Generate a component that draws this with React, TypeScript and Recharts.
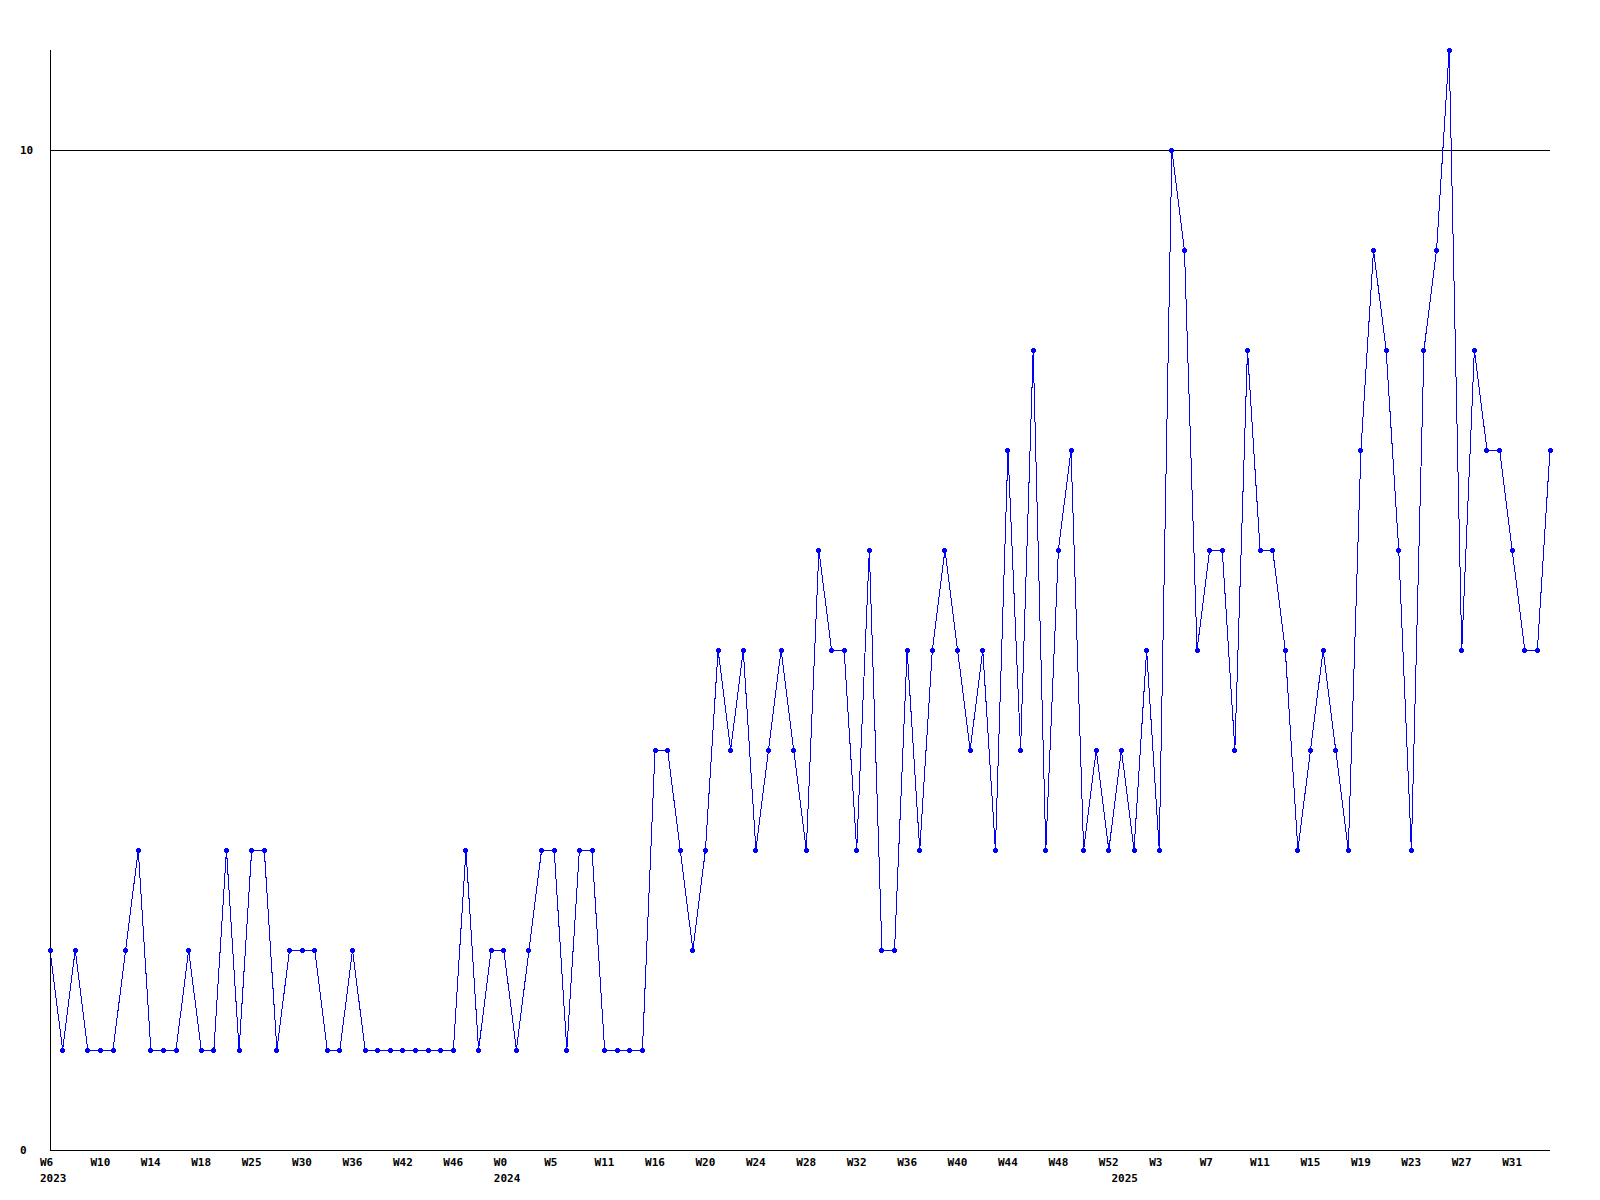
import React from "react";
import { LineChart, Line, XAxis, YAxis, ReferenceLine } from "recharts";

// Weekly values (120 weeks, 2023-W6 .. 2025-W34)
const values: number[] = [
  2, 1, 2, 1, 1, 1, 2, 3, 1, 1, 1, 2, 1, 1, 3, 1, 3, 3, 1, 2,
  2, 2, 1, 1, 2, 1, 1, 1, 1, 1, 1, 1, 1, 3, 1, 2, 2, 1, 2, 3,
  3, 1, 3, 3, 1, 1, 1, 1, 4, 4, 3, 2, 3, 5, 4, 5, 3, 4, 5, 4,
  3, 6, 5, 5, 3, 6, 2, 2, 5, 3, 5, 6, 5, 4, 5, 3, 7, 4, 8, 3,
  6, 7, 3, 4, 3, 4, 3, 5, 3, 10, 9, 5, 6, 6, 4, 8, 6, 6, 5, 3,
  4, 5, 4, 3, 7, 9, 8, 6, 3, 8, 9, 11, 5, 8, 7, 7, 6, 5, 5, 7,
];

// Week tick labels, one for every 4th week
const weekLabels: string[] = [
  "W6", "W10", "W14", "W18", "W25", "W30", "W36", "W42", "W46", "W0",
  "W5", "W11", "W16", "W20", "W24", "W28", "W32", "W36", "W40", "W44",
  "W48", "W52", "W3", "W7", "W11", "W15", "W19", "W23", "W27", "W31",
];
const weekStep = 4;

// Year labels and the week index where each year starts
const yearNames: string[] = ["2023", "2024", "2025"];
const yearStarts: number[] = [0, 36, 85];

const yTicks: number[] = [0, 10];
const yMax = 11;

const data = values.map((v, i) => ({ i, v }));
const xTicks = Array.from(
  new Set([...weekLabels.map((_, k) => k * weekStep), ...yearStarts])
).sort((a, b) => a - b);

const FONT = "'DejaVu Sans Mono', 'Liberation Mono', monospace";

const XTick = (props: any) => {
  const { x, y, payload } = props;
  const i = payload.value as number;
  const wk = i % weekStep === 0 ? weekLabels[i / weekStep] : null;
  const yi = yearStarts.indexOf(i);
  return (
    <g>
      {wk ? (
        <text x={x - 10} y={y + 16} fontSize={11} fontWeight="bold" fontFamily={FONT} fill="#000" textAnchor="start">
          {wk}
        </text>
      ) : null}
      {yi >= 0 ? (
        <text x={x - 10} y={y + 32} fontSize={11} fontWeight="bold" fontFamily={FONT} fill="#000" textAnchor="start">
          {yearNames[yi]}
        </text>
      ) : null}
    </g>
  );
};

const YTick = (props: any) => {
  const { x, y, payload } = props;
  return (
    <text x={x - 30} y={y + 4} fontSize={11} fontWeight="bold" fontFamily={FONT} fill="#000" textAnchor="start">
      {payload.value}
    </text>
  );
};

const Dot = (props: any) => {
  const { cx, cy, index } = props;
  if (cx == null || cy == null) return <g key={`d${index}`} />;
  return (
    <g key={`d${index}`}>
      <rect x={cx - 2.5} y={cy - 1.5} width={5} height={3} fill="#0000ff" />
      <rect x={cx - 1.5} y={cy - 2.5} width={3} height={5} fill="#0000ff" />
    </g>
  );
};

export default function App() {
  return (
    <div style={{ position: "absolute", left: 0, top: 0, width: 1600, height: 1200, background: "#fff" }}>
      <style>{`.recharts-wrapper svg line, .recharts-wrapper svg path, .recharts-wrapper svg rect { shape-rendering: crispEdges; }`}</style>
      <LineChart
        width={1600}
        height={1200}
        data={data}
        margin={{ top: 50, right: 50, bottom: 0, left: 0 }}
      >
        <XAxis
          dataKey="i"
          type="number"
          domain={[0, values.length - 1]}
          ticks={xTicks}
          interval={0}
          tick={<XTick />}
          tickLine={false}
          tickSize={0}
          tickMargin={0}
          height={50}
          axisLine={{ stroke: "#000", strokeWidth: 1 }}
        />
        <YAxis
          type="number"
          domain={[0, yMax]}
          ticks={yTicks}
          interval={0}
          tick={<YTick />}
          tickLine={false}
          tickSize={0}
          tickMargin={0}
          width={50}
          axisLine={{ stroke: "#000", strokeWidth: 1 }}
        />
        <ReferenceLine y={10} stroke="#000" strokeWidth={1} ifOverflow="visible" />
        <Line
          type="linear"
          dataKey="v"
          stroke="#0000ff"
          strokeWidth={1}
          dot={Dot}
          activeDot={false}
          isAnimationActive={false}
        />
      </LineChart>
    </div>
  );
}
